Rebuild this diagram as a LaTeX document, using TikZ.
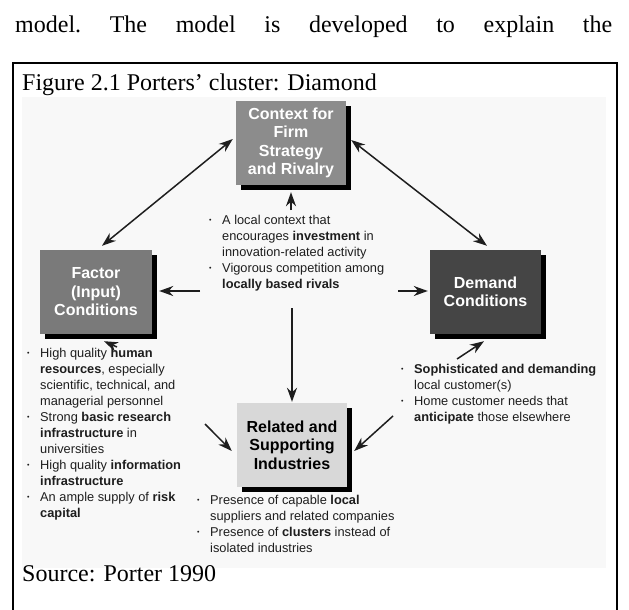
\documentclass[tikz,border=0pt]{standalone}
\usepackage{fontspec}
\setmainfont{Liberation Serif}
\newfontfamily\arialf{Liberation Sans}
\usetikzlibrary{arrows.meta}
\definecolor{ctxgray}{HTML}{8C8C8C}
\definecolor{facgray}{HTML}{7A7A7A}
\definecolor{demgray}{HTML}{454545}
\definecolor{relgray}{HTML}{D8D8D8}
\definecolor{bggray}{HTML}{F8F8F8}
\definecolor{inkgray}{HTML}{1E1E1E}
\newcommand{\bulmark}{\makebox[13pt][l]{\raisebox{0.25ex}{\fontsize{7}{7}\selectfont\textbullet}}}
\tikzset{
  box/.style={minimum width=110pt, minimum height=84pt, inner sep=0pt, align=center,
    font=\arialf\bfseries\fontsize{16}{18.5}\selectfont,
    preaction={fill=black, transform canvas={xshift=4.5pt,yshift=-5pt}}},
  txt/.style={anchor=base west, inner sep=0pt, text=inkgray, font=\arialf\fontsize{12.8}{16}\selectfont},
  serif/.style={anchor=base west, inner sep=0pt, font=\fontsize{24}{28}\selectfont},
  conn/.style={line width=1.5pt, draw=inkgray, -{Stealth[length=14pt,width=10pt,inset=4.5pt]}},
  dconn/.style={line width=1.5pt, draw=inkgray, {Stealth[length=14pt,width=10pt,inset=4.5pt]}-{Stealth[length=14pt,width=10pt,inset=4.5pt]}},
}
\begin{document}
\begin{tikzpicture}[x=1pt,y=-1pt]
\useasboundingbox (0,0) rectangle (629,610);
\fill[white] (0,0) rectangle (629,610);
% running text
\node[serif] (topline) at (15,33) {\frenchspacing\makebox[597pt][s]{model. The model is developed to explain the}};
% frame
\fill[bggray] (22,97) rectangle (606,568);
\draw[line width=2pt] (13,612) -- (13,63) -- (617,63) -- (617,612);
\node[serif] (cap) at (22,90) {Figure 2.1 Porters’ cluster: Diamond};
\node[serif] (src) at (22,581) {Source: Porter 1990};
% boxes
\node[box, fill=ctxgray, text=white] (ctx) at (291,143) {Context for\\Firm\\Strategy\\and Rivalry};
\node[box, fill=facgray, text=white, minimum width=112pt] (fac) at (96,292) {Factor\\(Input)\\Conditions};
\node[box, fill=demgray, text=white, minimum width=111pt] (dem) at (485.5,292) {Demand\\Conditions};
\node[box, fill=relgray, text=black] (rel) at (292,445) {Related and\\Supporting\\Industries};
% text blocks
\node[txt] (ctxtxt) at (209,224) {\begin{tabular}[t]{@{}l@{}l@{}}
\bulmark & A local context that\\
 & encourages \textbf{investment} in\\
 & innovation-related activity\\
\bulmark & Vigorous competition among\\
 & \textbf{locally based rivals}
\end{tabular}};
\node[txt] (factxt) at (27,357) {\begin{tabular}[t]{@{}l@{}l@{}}
\bulmark & High quality \textbf{human}\\
 & \textbf{resources}, especially\\
 & scientific, technical, and\\
 & managerial personnel\\
\bulmark & Strong \textbf{basic research}\\
 & \textbf{infrastructure} in\\
 & universities\\
\bulmark & High quality \textbf{information}\\
 & \textbf{infrastructure}\\
\bulmark & An ample supply of \textbf{risk}\\
 & \textbf{capital}
\end{tabular}};
\node[txt] (demtxt) at (401,373) {\begin{tabular}[t]{@{}l@{}l@{}}
\bulmark & \textbf{Sophisticated and demanding}\\
 & local customer(s)\\
\bulmark & Home customer needs that\\
 & \textbf{anticipate} those elsewhere
\end{tabular}};
\node[txt] (reltxt) at (197,504) {\begin{tabular}[t]{@{}l@{}l@{}}
\bulmark & Presence of capable \textbf{local}\\
 & suppliers and related companies\\
\bulmark & Presence of \textbf{clusters} instead of\\
 & isolated industries
\end{tabular}};
% free ends of connectors
\coordinate (a3s) at (291,210);
\coordinate (a4s) at (200,291);
\coordinate (a5s) at (398,291);
\coordinate (a6s) at (292,308);
\coordinate (a7s) at (117,347);
\coordinate (a8s) at (205,424);
\coordinate (a9s) at (393,416);
\coordinate (a10s) at (457,359);
% connectors
\draw[dconn] ([xshift=6pt,yshift=4pt]fac.north) -- ([xshift=-3pt,yshift=4pt]ctx.west);
\draw[dconn] ([xshift=5pt,yshift=3pt]ctx.east) -- ([xshift=1.5pt,yshift=4pt]dem.north);
\draw[conn] (a3s) -- ([yshift=-7pt]ctx.south);
\draw[conn] (a4s) -- ([xshift=7pt,yshift=1pt]fac.east);
\draw[conn] (a5s) -- ([xshift=-2pt,yshift=1pt]dem.west);
\draw[conn] (a6s) -- ([yshift=1pt]rel.north);
\draw[conn] (a7s) -- ([xshift=8pt,yshift=-7pt]fac.south);
\draw[conn] (a8s) -- ([xshift=-5pt,yshift=-6pt]rel.west);
\draw[conn] (a9s) -- ([xshift=7pt,yshift=-6pt]rel.east);
\draw[conn] (a10s) -- ([xshift=-1.5pt,yshift=-7pt]dem.south);
\end{tikzpicture}
\end{document}
